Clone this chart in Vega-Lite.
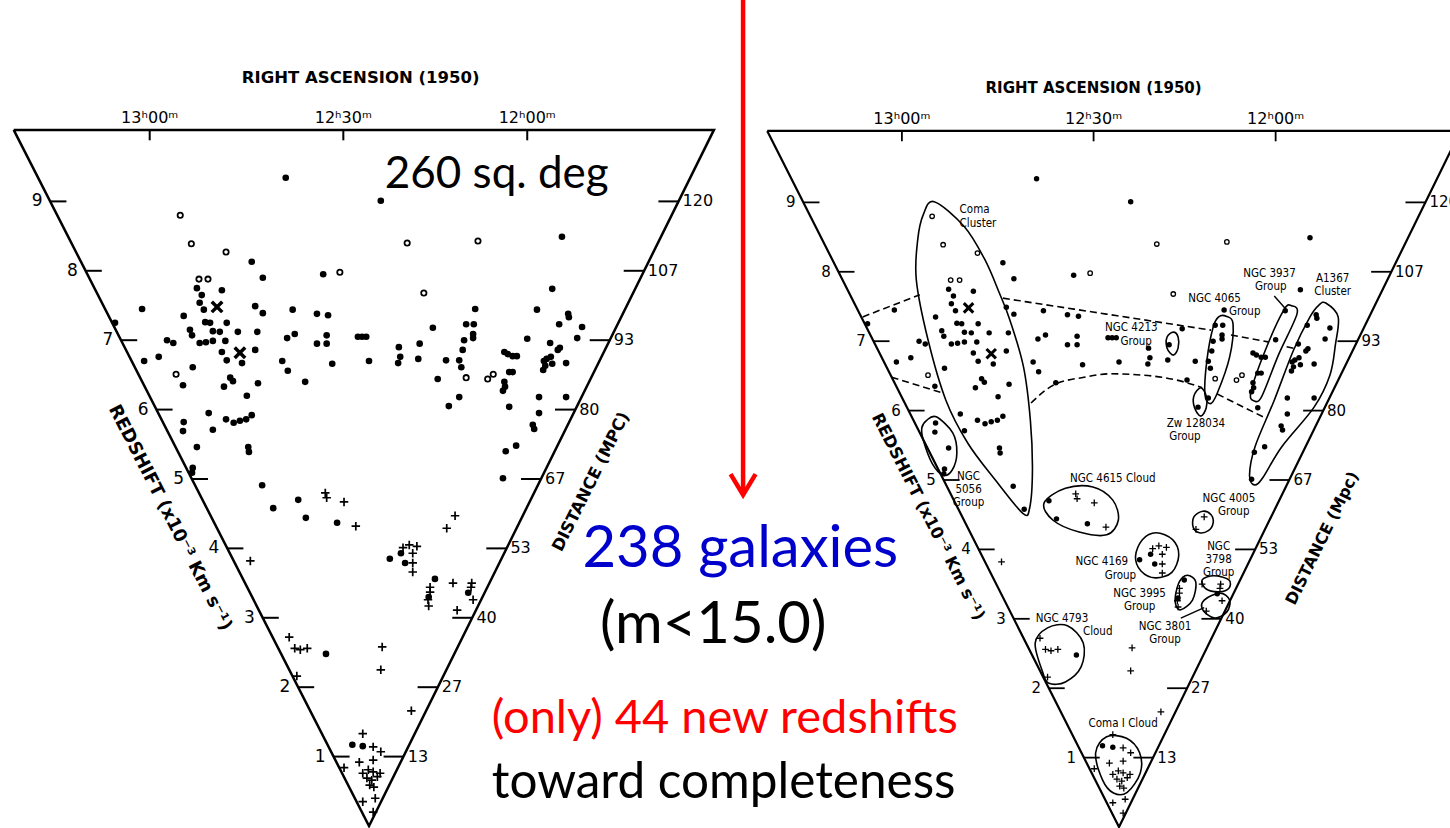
{
  "$schema": "https://vega.github.io/schema/vega-lite/v6.json",
  "width": 1450,
  "height": 828,
  "padding": 0,
  "autosize": {"type": "none"},
  "background": "white",
  "config": {"view": {"stroke": null}},
  "datasets": {
    "wedge": [
      {"u": -5.12, "v": 10.03, "o": 0},
      {"u": 0, "v": 0, "o": 1},
      {"u": 4.97, "v": 10.03, "o": 2},
      {"u": -5.12, "v": 10.03, "o": 3}
    ],
    "ra": [
      {"u": -3.16, "v": 10.03, "v2": 9.88, "t": "13ʰ00ᵐ"},
      {"u": -0.37, "v": 10.03, "v2": 9.88, "t": "12ʰ30ᵐ"},
      {"u": 2.28, "v": 10.03, "v2": 9.88, "t": "12ʰ00ᵐ"}
    ],
    "zt": [
      {"u": -0.51, "u2": -0.28, "v": 1, "t": "1"},
      {"u": -1.02, "u2": -0.79, "v": 2, "t": "2"},
      {"u": -1.53, "u2": -1.30, "v": 3, "t": "3"},
      {"u": -2.04, "u2": -1.81, "v": 4, "t": "4"},
      {"u": -2.55, "u2": -2.32, "v": 5, "t": "5"},
      {"u": -3.06, "u2": -2.83, "v": 6, "t": "6"},
      {"u": -3.57, "u2": -3.34, "v": 7, "t": "7"},
      {"u": -4.08, "u2": -3.85, "v": 8, "t": "8"},
      {"u": -4.59, "u2": -4.36, "v": 9, "t": "9"}
    ],
    "dt": [
      {"u": 0.50, "u2": 0.21, "v": 1, "t": "13"},
      {"u": 0.99, "u2": 0.70, "v": 2, "t": "27"},
      {"u": 1.49, "u2": 1.20, "v": 3, "t": "40"},
      {"u": 1.98, "u2": 1.69, "v": 4, "t": "53"},
      {"u": 2.48, "u2": 2.19, "v": 5, "t": "67"},
      {"u": 2.97, "u2": 2.68, "v": 6, "t": "80"},
      {"u": 3.47, "u2": 3.18, "v": 7, "t": "93"},
      {"u": 3.96, "u2": 3.67, "v": 8, "t": "107"},
      {"u": 4.46, "u2": 4.17, "v": 9, "t": "120"}
    ],
    "galaxies": [
      {"u": -1.20, "v": 9.34, "k": "dot"}, {"u": 0.17, "v": 9.01, "k": "dot"}, {"u": -1.69, "v": 8.13, "k": "dot"},
      {"u": -1.53, "v": 7.90, "k": "dot"}, {"u": -0.66, "v": 7.95, "k": "dot"}, {"u": 2.78, "v": 8.49, "k": "dot"},
      {"u": 2.64, "v": 7.74, "k": "dot"}, {"u": 1.53, "v": 7.45, "k": "dot"}, {"u": 2.42, "v": 7.44, "k": "dot"},
      {"u": 2.87, "v": 7.38, "k": "dot"}, {"u": 2.88, "v": 7.33, "k": "dot"}, {"u": -3.27, "v": 7.45, "k": "dot"},
      {"u": -2.48, "v": 7.75, "k": "dot"}, {"u": -2.41, "v": 7.65, "k": "dot"}, {"u": -2.12, "v": 7.72, "k": "dot"},
      {"u": -2.44, "v": 7.54, "k": "dot"}, {"u": -1.64, "v": 7.49, "k": "dot"}, {"u": -1.53, "v": 7.39, "k": "dot"},
      {"u": -1.10, "v": 7.44, "k": "dot"}, {"u": -0.75, "v": 7.38, "k": "dot"}, {"u": -0.59, "v": 7.36, "k": "dot"},
      {"u": -2.67, "v": 7.35, "k": "dot"}, {"u": -3.66, "v": 7.25, "k": "dot"}, {"u": -2.38, "v": 7.44, "k": "dot"},
      {"u": -2.36, "v": 7.26, "k": "dot"}, {"u": -2.29, "v": 7.25, "k": "dot"}, {"u": -2.05, "v": 7.25, "k": "dot"},
      {"u": -2.58, "v": 7.15, "k": "dot"}, {"u": -2.55, "v": 7.07, "k": "dot"}, {"u": -2.25, "v": 7.13, "k": "dot"},
      {"u": -2.15, "v": 7.12, "k": "dot"}, {"u": -1.89, "v": 7.12, "k": "dot"}, {"u": -1.61, "v": 7.12, "k": "dot"},
      {"u": -1.18, "v": 7.03, "k": "dot"}, {"u": -1.07, "v": 7.09, "k": "dot"}, {"u": -0.61, "v": 7.07, "k": "dot"},
      {"u": -2.91, "v": 7.00, "k": "dot"}, {"u": -2.82, "v": 6.96, "k": "dot"}, {"u": -2.44, "v": 6.96, "k": "dot"},
      {"u": -2.35, "v": 6.97, "k": "dot"}, {"u": -2.25, "v": 6.99, "k": "dot"}, {"u": -2.07, "v": 6.99, "k": "dot"},
      {"u": -0.75, "v": 6.95, "k": "dot"}, {"u": -0.61, "v": 6.95, "k": "dot"}, {"u": -0.16, "v": 7.05, "k": "dot"},
      {"u": -2.12, "v": 6.83, "k": "dot"}, {"u": -2.05, "v": 6.71, "k": "dot"}, {"u": -1.83, "v": 6.67, "k": "dot"},
      {"u": -1.64, "v": 6.86, "k": "dot"}, {"u": -3.24, "v": 6.70, "k": "dot"}, {"u": -3.03, "v": 6.76, "k": "dot"},
      {"u": -2.54, "v": 6.61, "k": "dot"}, {"u": -2.68, "v": 6.35, "k": "dot"}, {"u": -1.25, "v": 6.70, "k": "dot"},
      {"u": -1.17, "v": 6.56, "k": "dot"}, {"u": -0.53, "v": 6.66, "k": "dot"}, {"u": -0.92, "v": 6.40, "k": "dot"},
      {"u": -2.00, "v": 6.46, "k": "dot"}, {"u": -1.96, "v": 6.41, "k": "dot"}, {"u": -2.09, "v": 6.33, "k": "dot"},
      {"u": -1.60, "v": 6.38, "k": "dot"}, {"u": -1.76, "v": 6.20, "k": "dot"}, {"u": -2.31, "v": 5.95, "k": "dot"},
      {"u": -2.06, "v": 5.86, "k": "dot"}, {"u": -1.95, "v": 5.81, "k": "dot"}, {"u": -1.86, "v": 5.84, "k": "dot"},
      {"u": -1.77, "v": 5.86, "k": "dot"}, {"u": -1.69, "v": 5.92, "k": "dot"}, {"u": -2.67, "v": 5.82, "k": "dot"},
      {"u": -2.68, "v": 5.69, "k": "dot"}, {"u": -2.25, "v": 5.71, "k": "dot"}, {"u": -2.48, "v": 5.46, "k": "dot"},
      {"u": -1.74, "v": 5.46, "k": "dot"}, {"u": -1.73, "v": 5.39, "k": "dot"}, {"u": -2.54, "v": 5.16, "k": "dot"},
      {"u": -2.55, "v": 5.09, "k": "dot"}, {"u": -1.54, "v": 4.91, "k": "dot"}, {"u": -1.38, "v": 4.58, "k": "dot"},
      {"u": -1.02, "v": 4.70, "k": "dot"}, {"u": -0.91, "v": 4.44, "k": "dot"}, {"u": -0.46, "v": 4.37, "k": "dot"},
      {"u": -0.10, "v": 7.05, "k": "dot"}, {"u": -0.04, "v": 7.05, "k": "dot"}, {"u": 0.00, "v": 6.70, "k": "dot"},
      {"u": 0.43, "v": 6.90, "k": "dot"}, {"u": 0.45, "v": 6.76, "k": "dot"}, {"u": 0.42, "v": 6.67, "k": "dot"},
      {"u": 0.73, "v": 6.95, "k": "dot"}, {"u": 0.71, "v": 6.73, "k": "dot"}, {"u": 0.92, "v": 7.18, "k": "dot"},
      {"u": 1.11, "v": 6.71, "k": "dot"}, {"u": 0.99, "v": 6.44, "k": "dot"}, {"u": 1.30, "v": 6.71, "k": "dot"},
      {"u": 1.33, "v": 6.61, "k": "dot"}, {"u": 1.30, "v": 6.18, "k": "dot"}, {"u": 1.15, "v": 6.05, "k": "dot"},
      {"u": 1.40, "v": 7.23, "k": "dot"}, {"u": 1.51, "v": 7.23, "k": "dot"}, {"u": 1.50, "v": 7.09, "k": "dot"},
      {"u": 1.50, "v": 7.03, "k": "dot"}, {"u": 1.37, "v": 7.00, "k": "dot"}, {"u": 1.35, "v": 6.86, "k": "dot"},
      {"u": 1.95, "v": 6.83, "k": "dot"}, {"u": 2.00, "v": 6.80, "k": "dot"}, {"u": 2.07, "v": 6.77, "k": "dot"},
      {"u": 2.13, "v": 6.77, "k": "dot"}, {"u": 2.07, "v": 6.54, "k": "dot"}, {"u": 2.02, "v": 6.54, "k": "dot"},
      {"u": 1.95, "v": 6.40, "k": "dot"}, {"u": 1.96, "v": 6.33, "k": "dot"}, {"u": 1.93, "v": 6.27, "k": "dot"},
      {"u": 2.02, "v": 6.04, "k": "dot"}, {"u": 2.28, "v": 7.02, "k": "dot"}, {"u": 2.61, "v": 6.96, "k": "dot"},
      {"u": 2.74, "v": 7.23, "k": "dot"}, {"u": 3.07, "v": 7.19, "k": "dot"}, {"u": 3.00, "v": 7.03, "k": "dot"},
      {"u": 2.72, "v": 6.86, "k": "dot"}, {"u": 2.75, "v": 6.89, "k": "dot"}, {"u": 2.52, "v": 6.70, "k": "dot"},
      {"u": 2.56, "v": 6.73, "k": "dot"}, {"u": 2.62, "v": 6.76, "k": "dot"}, {"u": 2.64, "v": 6.66, "k": "dot"},
      {"u": 2.51, "v": 6.57, "k": "dot"}, {"u": 2.54, "v": 6.63, "k": "dot"}, {"u": 2.84, "v": 6.67, "k": "dot"},
      {"u": 2.45, "v": 6.18, "k": "dot"}, {"u": 2.84, "v": 6.18, "k": "dot"}, {"u": 2.45, "v": 5.95, "k": "dot"},
      {"u": 2.36, "v": 5.78, "k": "dot"}, {"u": 2.38, "v": 5.72, "k": "dot"}, {"u": 1.97, "v": 5.40, "k": "dot"},
      {"u": 2.12, "v": 5.48, "k": "dot"}, {"u": 1.93, "v": 5.01, "k": "dot"},
      {"u": 0.30, "v": 3.85, "k": "dot"}, {"u": 0.46, "v": 3.93, "k": "dot"}, {"u": 0.52, "v": 3.79, "k": "dot"},
      {"u": 0.95, "v": 3.56, "k": "dot"}, {"u": 0.86, "v": 3.30, "k": "dot"}, {"u": 1.43, "v": 3.36, "k": "dot"},
      {"u": -0.62, "v": 2.48, "k": "dot"}, {"u": -0.24, "v": 1.17, "k": "dot"}, {"u": -0.09, "v": 1.15, "k": "dot"},
      {"u": -2.72, "v": 8.80, "k": "open"}, {"u": -2.56, "v": 8.39, "k": "open"}, {"u": -2.06, "v": 8.27, "k": "open"},
      {"u": -0.42, "v": 7.98, "k": "open"}, {"u": 0.55, "v": 8.40, "k": "open"}, {"u": 1.57, "v": 8.43, "k": "open"},
      {"u": 0.79, "v": 7.68, "k": "open"}, {"u": -2.45, "v": 7.88, "k": "open"}, {"u": -2.32, "v": 7.88, "k": "open"},
      {"u": -2.78, "v": 6.51, "k": "open"}, {"u": 1.40, "v": 6.46, "k": "open"}, {"u": 1.71, "v": 6.44, "k": "open"},
      {"u": 1.79, "v": 6.51, "k": "open"},
      {"u": -2.19, "v": 7.48, "k": "x"}, {"u": -1.86, "v": 6.82, "k": "x"},
      {"u": -0.63, "v": 4.80, "k": "cross"}, {"u": -0.61, "v": 4.73, "k": "cross"}, {"u": -0.36, "v": 4.67, "k": "cross"},
      {"u": -0.19, "v": 4.32, "k": "cross"}, {"u": 1.24, "v": 4.47, "k": "cross"}, {"u": 1.12, "v": 4.29, "k": "cross"},
      {"u": -1.71, "v": 3.82, "k": "cross"}, {"u": 0.49, "v": 4.01, "k": "cross"}, {"u": 0.58, "v": 4.05, "k": "cross"},
      {"u": 0.69, "v": 4.03, "k": "cross"}, {"u": 0.63, "v": 3.93, "k": "cross"}, {"u": 0.63, "v": 3.79, "k": "cross"},
      {"u": 0.63, "v": 3.66, "k": "cross"}, {"u": 0.88, "v": 3.44, "k": "cross"}, {"u": 0.88, "v": 3.37, "k": "cross"},
      {"u": 0.85, "v": 3.26, "k": "cross"}, {"u": 0.86, "v": 3.17, "k": "cross"}, {"u": 1.21, "v": 3.50, "k": "cross"},
      {"u": 1.48, "v": 3.50, "k": "cross"}, {"u": 1.47, "v": 3.44, "k": "cross"}, {"u": 1.50, "v": 3.26, "k": "cross"},
      {"u": 1.27, "v": 3.11, "k": "cross"}, {"u": -1.15, "v": 2.72, "k": "cross"}, {"u": -1.07, "v": 2.56, "k": "cross"},
      {"u": -0.99, "v": 2.54, "k": "cross"}, {"u": -0.89, "v": 2.56, "k": "cross"}, {"u": 0.19, "v": 2.58, "k": "cross"},
      {"u": 0.17, "v": 2.25, "k": "cross"}, {"u": -1.04, "v": 2.16, "k": "cross"}, {"u": 0.61, "v": 1.66, "k": "cross"},
      {"u": -0.09, "v": 1.33, "k": "cross"}, {"u": 0.06, "v": 1.14, "k": "cross"}, {"u": 0.17, "v": 1.07, "k": "cross"},
      {"u": -0.14, "v": 0.92, "k": "cross"}, {"u": 0.06, "v": 0.95, "k": "cross"}, {"u": -0.36, "v": 0.84, "k": "cross"},
      {"u": -0.09, "v": 0.76, "k": "cross"}, {"u": -0.01, "v": 0.81, "k": "cross"}, {"u": 0.06, "v": 0.78, "k": "cross"},
      {"u": 0.16, "v": 0.76, "k": "cross"}, {"u": -0.03, "v": 0.69, "k": "cross"}, {"u": 0.04, "v": 0.66, "k": "cross"},
      {"u": 0.12, "v": 0.71, "k": "cross"}, {"u": 0.01, "v": 0.59, "k": "cross"}, {"u": 0.07, "v": 0.56, "k": "cross"},
      {"u": 0.09, "v": 0.40, "k": "cross"}, {"u": -0.09, "v": 0.35, "k": "cross"}, {"u": 0.06, "v": 0.20, "k": "cross"}
    ],
    "groups": [
      {"g": "Coma", "o": 0, "u": -2.69, "v": 9.01}, {"g": "Coma", "o": 1, "u": -2.25, "v": 8.65},
      {"g": "Coma", "o": 2, "u": -1.95, "v": 8.17}, {"g": "Coma", "o": 3, "u": -1.74, "v": 7.69},
      {"g": "Coma", "o": 4, "u": -1.59, "v": 7.31}, {"g": "Coma", "o": 5, "u": -1.39, "v": 6.63},
      {"g": "Coma", "o": 6, "u": -1.29, "v": 5.86}, {"g": "Coma", "o": 7, "u": -1.26, "v": 5.14},
      {"g": "Coma", "o": 8, "u": -1.30, "v": 4.60}, {"g": "Coma", "o": 9, "u": -1.40, "v": 4.52},
      {"g": "Coma", "o": 10, "u": -1.80, "v": 5.00}, {"g": "Coma", "o": 11, "u": -2.20, "v": 5.53},
      {"g": "Coma", "o": 12, "u": -2.52, "v": 6.15}, {"g": "Coma", "o": 13, "u": -2.78, "v": 7.02},
      {"g": "Coma", "o": 14, "u": -2.95, "v": 7.88}, {"g": "Coma", "o": 15, "u": -2.93, "v": 8.46},
      {"g": "Coma", "o": 16, "u": -2.85, "v": 8.82},
      {"g": "N5056", "o": 0, "u": -2.66, "v": 5.91}, {"g": "N5056", "o": 1, "u": -2.42, "v": 5.68},
      {"g": "N5056", "o": 2, "u": -2.36, "v": 5.39}, {"g": "N5056", "o": 3, "u": -2.43, "v": 5.14},
      {"g": "N5056", "o": 4, "u": -2.56, "v": 5.07}, {"g": "N5056", "o": 5, "u": -2.72, "v": 5.24},
      {"g": "N5056", "o": 6, "u": -2.85, "v": 5.58}, {"g": "N5056", "o": 7, "u": -2.87, "v": 5.75},
      {"g": "N5056", "o": 8, "u": -2.80, "v": 5.86},
      {"g": "N4213", "o": 0, "u": 0.79, "v": 7.13}, {"g": "N4213", "o": 1, "u": 0.86, "v": 7.06},
      {"g": "N4213", "o": 2, "u": 0.86, "v": 6.90}, {"g": "N4213", "o": 3, "u": 0.79, "v": 6.80},
      {"g": "N4213", "o": 4, "u": 0.70, "v": 6.90}, {"g": "N4213", "o": 5, "u": 0.70, "v": 7.06},
      {"g": "N4065", "o": 0, "u": 1.56, "v": 7.36}, {"g": "N4065", "o": 1, "u": 1.66, "v": 7.25},
      {"g": "N4065", "o": 2, "u": 1.61, "v": 6.77}, {"g": "N4065", "o": 3, "u": 1.43, "v": 6.25},
      {"g": "N4065", "o": 4, "u": 1.33, "v": 6.10}, {"g": "N4065", "o": 5, "u": 1.25, "v": 6.24},
      {"g": "N4065", "o": 6, "u": 1.28, "v": 6.73}, {"g": "N4065", "o": 7, "u": 1.37, "v": 7.20},
      {"g": "N4065", "o": 8, "u": 1.45, "v": 7.35},
      {"g": "Zw", "o": 0, "u": 1.19, "v": 6.33}, {"g": "Zw", "o": 1, "u": 1.27, "v": 6.21},
      {"g": "Zw", "o": 2, "u": 1.27, "v": 6.04}, {"g": "Zw", "o": 3, "u": 1.19, "v": 5.92},
      {"g": "Zw", "o": 4, "u": 1.10, "v": 6.04}, {"g": "Zw", "o": 5, "u": 1.09, "v": 6.21},
      {"g": "N3937", "o": 0, "u": 2.51, "v": 7.51}, {"g": "N3937", "o": 1, "u": 2.59, "v": 7.39},
      {"g": "N3937", "o": 2, "u": 2.32, "v": 6.80}, {"g": "N3937", "o": 3, "u": 2.08, "v": 6.21},
      {"g": "N3937", "o": 4, "u": 1.97, "v": 6.14}, {"g": "N3937", "o": 5, "u": 1.92, "v": 6.27},
      {"g": "N3937", "o": 6, "u": 2.13, "v": 6.87}, {"g": "N3937", "o": 7, "u": 2.40, "v": 7.45},
      {"g": "A1367", "o": 0, "u": 3.01, "v": 7.55}, {"g": "A1367", "o": 1, "u": 3.19, "v": 7.35},
      {"g": "A1367", "o": 2, "u": 3.15, "v": 6.95}, {"g": "A1367", "o": 3, "u": 3.07, "v": 6.51},
      {"g": "A1367", "o": 4, "u": 2.84, "v": 6.05}, {"g": "A1367", "o": 5, "u": 2.37, "v": 5.48},
      {"g": "A1367", "o": 6, "u": 2.09, "v": 5.03}, {"g": "A1367", "o": 7, "u": 1.97, "v": 4.93},
      {"g": "A1367", "o": 8, "u": 1.90, "v": 5.07}, {"g": "A1367", "o": 9, "u": 1.98, "v": 5.48},
      {"g": "A1367", "o": 10, "u": 2.26, "v": 6.15}, {"g": "A1367", "o": 11, "u": 2.54, "v": 6.87},
      {"g": "A1367", "o": 12, "u": 2.78, "v": 7.35}, {"g": "A1367", "o": 13, "u": 2.91, "v": 7.52},
      {"g": "N4615", "o": 0, "u": -1.09, "v": 4.67}, {"g": "N4615", "o": 1, "u": -0.78, "v": 4.88},
      {"g": "N4615", "o": 2, "u": -0.38, "v": 4.90}, {"g": "N4615", "o": 3, "u": -0.09, "v": 4.71},
      {"g": "N4615", "o": 4, "u": -0.01, "v": 4.42}, {"g": "N4615", "o": 5, "u": -0.18, "v": 4.21},
      {"g": "N4615", "o": 6, "u": -0.58, "v": 4.25}, {"g": "N4615", "o": 7, "u": -0.96, "v": 4.42},
      {"g": "N4005", "o": 0, "u": 1.22, "v": 4.55}, {"g": "N4005", "o": 1, "u": 1.34, "v": 4.50},
      {"g": "N4005", "o": 2, "u": 1.37, "v": 4.38}, {"g": "N4005", "o": 3, "u": 1.30, "v": 4.27},
      {"g": "N4005", "o": 4, "u": 1.17, "v": 4.24}, {"g": "N4005", "o": 5, "u": 1.08, "v": 4.32},
      {"g": "N4005", "o": 6, "u": 1.09, "v": 4.47},
      {"g": "N4169", "o": 0, "u": 0.54, "v": 4.24}, {"g": "N4169", "o": 1, "u": 0.78, "v": 4.14},
      {"g": "N4169", "o": 2, "u": 0.87, "v": 3.92}, {"g": "N4169", "o": 3, "u": 0.77, "v": 3.67},
      {"g": "N4169", "o": 4, "u": 0.53, "v": 3.59}, {"g": "N4169", "o": 5, "u": 0.32, "v": 3.69},
      {"g": "N4169", "o": 6, "u": 0.24, "v": 3.90}, {"g": "N4169", "o": 7, "u": 0.34, "v": 4.14},
      {"g": "N3995", "o": 0, "u": 1.03, "v": 3.62}, {"g": "N3995", "o": 1, "u": 1.12, "v": 3.52},
      {"g": "N3995", "o": 2, "u": 1.07, "v": 3.27}, {"g": "N3995", "o": 3, "u": 0.90, "v": 3.13},
      {"g": "N3995", "o": 4, "u": 0.82, "v": 3.23}, {"g": "N3995", "o": 5, "u": 0.85, "v": 3.46},
      {"g": "N3995", "o": 6, "u": 0.93, "v": 3.60},
      {"g": "N3798", "o": 0, "u": 1.21, "v": 3.56}, {"g": "N3798", "o": 1, "u": 1.38, "v": 3.62},
      {"g": "N3798", "o": 2, "u": 1.60, "v": 3.56}, {"g": "N3798", "o": 3, "u": 1.60, "v": 3.44},
      {"g": "N3798", "o": 4, "u": 1.46, "v": 3.39}, {"g": "N3798", "o": 5, "u": 1.27, "v": 3.43},
      {"g": "N3801", "o": 0, "u": 1.47, "v": 3.37}, {"g": "N3801", "o": 1, "u": 1.61, "v": 3.27},
      {"g": "N3801", "o": 2, "u": 1.57, "v": 3.10}, {"g": "N3801", "o": 3, "u": 1.39, "v": 3.01},
      {"g": "N3801", "o": 4, "u": 1.22, "v": 3.13}, {"g": "N3801", "o": 5, "u": 1.24, "v": 3.27},
      {"g": "N4793", "o": 0, "u": -0.75, "v": 2.90}, {"g": "N4793", "o": 1, "u": -0.52, "v": 2.65},
      {"g": "N4793", "o": 2, "u": -0.55, "v": 2.31}, {"g": "N4793", "o": 3, "u": -0.78, "v": 2.09},
      {"g": "N4793", "o": 4, "u": -1.02, "v": 2.07}, {"g": "N4793", "o": 5, "u": -1.11, "v": 2.23},
      {"g": "N4793", "o": 6, "u": -1.22, "v": 2.65}, {"g": "N4793", "o": 7, "u": -1.04, "v": 2.87},
      {"g": "ComaI", "o": 0, "u": -0.18, "v": 1.30}, {"g": "ComaI", "o": 1, "u": 0.11, "v": 1.28},
      {"g": "ComaI", "o": 2, "u": 0.30, "v": 1.07}, {"g": "ComaI", "o": 3, "u": 0.31, "v": 0.78},
      {"g": "ComaI", "o": 4, "u": 0.12, "v": 0.50}, {"g": "ComaI", "o": 5, "u": -0.08, "v": 0.49},
      {"g": "ComaI", "o": 6, "u": -0.24, "v": 0.68}, {"g": "ComaI", "o": 7, "u": -0.34, "v": 1.07}
    ],
    "band": [
      {"s": "a", "o": 0, "u": -3.73, "v": 7.35}, {"s": "a", "o": 1, "u": -2.90, "v": 7.67},
      {"s": "b", "o": 0, "u": -1.69, "v": 7.62}, {"s": "b", "o": 1, "u": -0.38, "v": 7.42}, {"s": "b", "o": 2, "u": 1.34, "v": 7.16},
      {"s": "c", "o": 0, "u": 1.63, "v": 7.09}, {"s": "c", "o": 1, "u": 2.17, "v": 6.99},
      {"s": "d", "o": 0, "u": 2.44, "v": 6.92}, {"s": "d", "o": 1, "u": 2.57, "v": 6.89},
      {"s": "e", "o": 0, "u": -3.31, "v": 6.48}, {"s": "e", "o": 1, "u": -2.55, "v": 6.25},
      {"s": "f", "o": 0, "u": -1.28, "v": 6.11}, {"s": "f", "o": 1, "u": -0.95, "v": 6.37},
      {"s": "f", "o": 2, "u": -0.51, "v": 6.48}, {"s": "f", "o": 3, "u": -0.12, "v": 6.53},
      {"s": "f", "o": 4, "u": 0.36, "v": 6.51}, {"s": "f", "o": 5, "u": 0.84, "v": 6.44},
      {"s": "f", "o": 6, "u": 1.21, "v": 6.33},
      {"s": "g", "o": 0, "u": 1.43, "v": 6.24}, {"s": "g", "o": 1, "u": 1.75, "v": 6.08}, {"s": "g", "o": 2, "u": 2.12, "v": 5.90}
    ],
    "leaders": [
      {"s": "N3937", "o": 0, "u": 2.26, "v": 7.65}, {"s": "N3937", "o": 1, "u": 2.44, "v": 7.45},
      {"s": "N3801", "o": 0, "u": 0.90, "v": 3.01}, {"s": "N3801", "o": 1, "u": 1.24, "v": 3.16}
    ],
    "groupLabels": [
      {"u": -2.32, "v": 8.85, "t": "Coma\nCluster", "a": "left"},
      {"u": -2.19, "v": 5.00, "t": "NGC\n5056\nGroup", "a": "center"},
      {"u": 0.18, "v": 7.14, "t": "NGC 4213", "a": "center"},
      {"u": 0.25, "v": 6.94, "t": "Group", "a": "center"},
      {"u": 1.39, "v": 7.57, "t": "NGC 4065", "a": "center"},
      {"u": 1.83, "v": 7.38, "t": "Group", "a": "center"},
      {"u": 1.12, "v": 5.77, "t": "Zw 128034", "a": "center"},
      {"u": 0.96, "v": 5.58, "t": "Group", "a": "center"},
      {"u": 2.19, "v": 7.93, "t": "NGC 3937", "a": "center"},
      {"u": 2.21, "v": 7.74, "t": "Group", "a": "center"},
      {"u": 3.11, "v": 7.85, "t": "A1367\nCluster", "a": "center"},
      {"u": -0.09, "v": 4.97, "t": "NGC 4615 Cloud", "a": "center"},
      {"u": 1.60, "v": 4.68, "t": "NGC 4005", "a": "center"},
      {"u": 1.67, "v": 4.49, "t": "Group", "a": "center"},
      {"u": -0.25, "v": 3.77, "t": "NGC 4169", "a": "center"},
      {"u": 0.02, "v": 3.58, "t": "Group", "a": "center"},
      {"u": 1.45, "v": 3.99, "t": "NGC\n3798\nGroup", "a": "center"},
      {"u": 0.30, "v": 3.31, "t": "NGC 3995\nGroup", "a": "center"},
      {"u": 0.67, "v": 2.84, "t": "NGC 3801\nGroup", "a": "center"},
      {"u": -0.83, "v": 2.96, "t": "NGC 4793", "a": "center"},
      {"u": -0.31, "v": 2.77, "t": "Cloud", "a": "center"},
      {"u": 0.06, "v": 1.44, "t": "Coma I Cloud", "a": "center"}
    ]
  },
  "layer": [
    {
      "encoding": {
        "x": {"field": "u", "type": "quantitative", "scale": {"domain": [-5.317, 15.576], "nice": false, "zero": false}, "axis": null},
        "y": {"field": "v", "type": "quantitative", "scale": {"domain": [-0.029, 11.902], "nice": false, "zero": false}, "axis": null}
      },
      "layer": [
        {"data": {"name": "wedge"}, "mark": {"type": "line", "stroke": "black", "strokeWidth": 2.5, "strokeJoin": "miter"}, "encoding": {"order": {"field": "o", "type": "quantitative"}}},
        {"data": {"name": "ra"}, "mark": {"type": "rule", "stroke": "black", "strokeWidth": 2}, "encoding": {"y2": {"field": "v2"}}},
        {"data": {"name": "ra"}, "mark": {"type": "text", "font": "DejaVu Sans", "fontSize": 16, "dy": -7, "baseline": "alphabetic", "align": "center", "color": "black"}, "encoding": {"text": {"field": "t"}}},
        {"data": {"name": "zt"}, "mark": {"type": "rule", "stroke": "black", "strokeWidth": 2}, "encoding": {"x2": {"field": "u2"}}},
        {"data": {"name": "zt"}, "mark": {"type": "text", "font": "DejaVu Sans", "fontSize": 17, "align": "right", "baseline": "middle", "dx": -8, "color": "black"}, "encoding": {"text": {"field": "t"}}},
        {"data": {"name": "dt"}, "mark": {"type": "rule", "stroke": "black", "strokeWidth": 2}, "encoding": {"x2": {"field": "u2"}}},
        {"data": {"name": "dt"}, "mark": {"type": "text", "font": "DejaVu Sans", "fontSize": 16, "align": "left", "baseline": "middle", "dx": 4, "color": "black"}, "encoding": {"text": {"field": "t"}}},
        {"data": {"values": [{"u": -0.12, "v": 10.71, "t": "RIGHT ASCENSION (1950)"}]}, "mark": {"type": "text", "font": "DejaVu Sans", "fontWeight": "bold", "fontSize": 16.5, "align": "center", "baseline": "alphabetic", "color": "black"}, "encoding": {"text": {"field": "t"}}},
        {"data": {"values": [{"u": -2.87, "v": 4.44, "t": "REDSHIFT (x10⁻³ Km s⁻¹)"}]}, "mark": {"type": "text", "font": "DejaVu Sans", "fontWeight": "bold", "fontSize": 18, "angle": 63, "align": "center", "baseline": "middle", "color": "black"}, "encoding": {"text": {"field": "t"}}},
        {"data": {"values": [{"u": 3.20, "v": 4.96, "t": "DISTANCE (MPC)"}]}, "mark": {"type": "text", "font": "DejaVu Sans", "fontWeight": "bold", "fontSize": 16.5, "angle": 296.4, "align": "center", "baseline": "middle", "color": "black"}, "encoding": {"text": {"field": "t"}}},
        {"data": {"name": "galaxies"}, "transform": [{"filter": "datum.k === 'dot'"}], "mark": {"type": "point", "shape": "circle", "filled": true, "color": "black", "opacity": 1, "size": 44}},
        {"data": {"name": "galaxies"}, "transform": [{"filter": "datum.k === 'open'"}], "mark": {"type": "point", "shape": "circle", "filled": false, "stroke": "black", "strokeWidth": 1.8, "opacity": 1, "size": 28}},
        {"data": {"name": "galaxies"}, "transform": [{"filter": "datum.k === 'cross'"}], "mark": {"type": "point", "shape": "M-1,0H1M0,-1V1", "filled": false, "stroke": "black", "strokeWidth": 1.7, "opacity": 1, "size": 72}},
        {"data": {"name": "galaxies"}, "transform": [{"filter": "datum.k === 'x'"}], "mark": {"type": "point", "shape": "M-1,-1L1,1M-1,1L1,-1", "filled": false, "stroke": "black", "strokeWidth": 3.5, "opacity": 1, "size": 110}},
        {"data": {"values": [{"u": 5.39, "v": 12.1, "v2": 4.82}]}, "mark": {"type": "rule", "stroke": "#ff0000", "strokeWidth": 4.5}, "encoding": {"y2": {"field": "v2"}}},
        {"data": {"values": [{"u": 5.21, "v": 5.07, "o": 0}, {"u": 5.39, "v": 4.77, "o": 1}, {"u": 5.57, "v": 5.07, "o": 2}]}, "mark": {"type": "line", "stroke": "#ff0000", "strokeWidth": 4.5, "strokeJoin": "miter"}, "encoding": {"order": {"field": "o", "type": "quantitative"}}},
        {"data": {"values": [{"u": 1.84, "v": 9.19, "t": "260 sq. deg"}]}, "mark": {"type": "text", "font": "Lato", "fontSize": 44, "align": "center", "baseline": "alphabetic", "color": "black"}, "encoding": {"text": {"field": "t"}}},
        {"data": {"values": [{"u": 5.35, "v": 3.73, "t": "238 galaxies"}]}, "mark": {"type": "text", "font": "Lato", "fontSize": 58, "align": "center", "baseline": "alphabetic", "color": "#0000cc"}, "encoding": {"text": {"field": "t"}}},
        {"data": {"values": [{"u": 4.96, "v": 2.64, "t": "(m<15.0)"}]}, "mark": {"type": "text", "font": "Lato", "fontSize": 58, "align": "center", "baseline": "alphabetic", "color": "black"}, "encoding": {"text": {"field": "t"}}},
        {"data": {"values": [{"u": 1.77, "v": 1.34, "t": "(only) 44 new redshifts"}]}, "mark": {"type": "text", "font": "Lato", "fontSize": 47, "align": "left", "baseline": "alphabetic", "color": "#ff0000"}, "encoding": {"text": {"field": "t"}}},
        {"data": {"values": [{"u": 1.77, "v": 0.40, "t": "toward completeness"}]}, "mark": {"type": "text", "font": "Lato", "fontSize": 49.5, "align": "left", "baseline": "alphabetic", "color": "black"}, "encoding": {"text": {"field": "t"}}}
      ]
    },
    {
      "encoding": {
        "x": {"field": "u", "type": "quantitative", "scale": {"domain": [-16.288, 4.818], "nice": false, "zero": false}, "axis": null},
        "y": {"field": "v", "type": "quantitative", "scale": {"domain": [-0.014, 11.916], "nice": false, "zero": false}, "axis": null}
      },
      "layer": [
        {"data": {"name": "wedge"}, "mark": {"type": "line", "stroke": "black", "strokeWidth": 2.2, "strokeJoin": "miter"}, "encoding": {"order": {"field": "o", "type": "quantitative"}}},
        {"data": {"name": "ra"}, "mark": {"type": "rule", "stroke": "black", "strokeWidth": 1.8}, "encoding": {"y2": {"field": "v2"}}},
        {"data": {"name": "ra"}, "mark": {"type": "text", "font": "DejaVu Sans", "fontSize": 16, "dy": -7, "baseline": "alphabetic", "align": "center", "color": "black"}, "encoding": {"text": {"field": "t"}}},
        {"data": {"name": "zt"}, "mark": {"type": "rule", "stroke": "black", "strokeWidth": 1.8}, "encoding": {"x2": {"field": "u2"}}},
        {"data": {"name": "zt"}, "mark": {"type": "text", "font": "DejaVu Sans", "fontSize": 15, "align": "right", "baseline": "middle", "dx": -8, "color": "black"}, "encoding": {"text": {"field": "t"}}},
        {"data": {"name": "dt"}, "mark": {"type": "rule", "stroke": "black", "strokeWidth": 1.8}, "encoding": {"x2": {"field": "u2"}}},
        {"data": {"name": "dt"}, "mark": {"type": "text", "font": "DejaVu Sans", "fontSize": 15, "align": "left", "baseline": "middle", "dx": 4, "color": "black"}, "encoding": {"text": {"field": "t"}}},
        {"data": {"values": [{"u": -0.37, "v": 10.58, "t": "RIGHT ASCENSION (1950)"}]}, "mark": {"type": "text", "font": "DejaVu Sans", "fontWeight": "bold", "fontSize": 15, "align": "center", "baseline": "alphabetic", "color": "black"}, "encoding": {"text": {"field": "t"}}},
        {"data": {"values": [{"u": -2.78, "v": 4.47, "t": "REDSHIFT (x10⁻³ Km s⁻¹)"}]}, "mark": {"type": "text", "font": "DejaVu Sans", "fontWeight": "bold", "fontSize": 16.5, "angle": 63, "align": "center", "baseline": "middle", "color": "black"}, "encoding": {"text": {"field": "t"}}},
        {"data": {"values": [{"u": 2.96, "v": 4.16, "t": "DISTANCE (Mpc)"}]}, "mark": {"type": "text", "font": "DejaVu Sans", "fontWeight": "bold", "fontSize": 16, "angle": 296, "align": "center", "baseline": "middle", "color": "black"}, "encoding": {"text": {"field": "t"}}},
        {"data": {"name": "groups"}, "mark": {"type": "line", "interpolate": "cardinal-closed", "stroke": "black", "strokeWidth": 1.6}, "encoding": {"detail": {"field": "g"}, "order": {"field": "o", "type": "quantitative"}}},
        {"data": {"name": "band"}, "mark": {"type": "line", "interpolate": "monotone", "stroke": "black", "strokeWidth": 1.6, "strokeDash": [7, 4]}, "encoding": {"detail": {"field": "s"}, "order": {"field": "o", "type": "quantitative"}}},
        {"data": {"name": "leaders"}, "mark": {"type": "line", "stroke": "black", "strokeWidth": 1.4}, "encoding": {"detail": {"field": "s"}, "order": {"field": "o", "type": "quantitative"}}},
        {"data": {"name": "groupLabels"}, "transform": [{"filter": "datum.a === 'center'"}], "mark": {"type": "text", "font": "DejaVu Sans Condensed, DejaVu Sans", "fontSize": 11.5, "align": "center", "baseline": "alphabetic", "lineBreak": "\n", "lineHeight": 13, "color": "black"}, "encoding": {"text": {"field": "t"}}},
        {"data": {"name": "groupLabels"}, "transform": [{"filter": "datum.a === 'left'"}], "mark": {"type": "text", "font": "DejaVu Sans Condensed, DejaVu Sans", "fontSize": 11.5, "align": "left", "baseline": "alphabetic", "lineBreak": "\n", "lineHeight": 14, "color": "black"}, "encoding": {"text": {"field": "t"}}},
        {"data": {"name": "galaxies"}, "transform": [{"filter": "datum.k === 'dot'"}], "mark": {"type": "point", "shape": "circle", "filled": true, "color": "black", "opacity": 1, "size": 30}},
        {"data": {"name": "galaxies"}, "transform": [{"filter": "datum.k === 'open'"}], "mark": {"type": "point", "shape": "circle", "filled": false, "stroke": "black", "strokeWidth": 1.3, "opacity": 1, "size": 20}},
        {"data": {"name": "galaxies"}, "transform": [{"filter": "datum.k === 'cross'"}], "mark": {"type": "point", "shape": "M-1,0H1M0,-1V1", "filled": false, "stroke": "black", "strokeWidth": 1.3, "opacity": 1, "size": 45}},
        {"data": {"name": "galaxies"}, "transform": [{"filter": "datum.k === 'x'"}], "mark": {"type": "point", "shape": "M-1,-1L1,1M-1,1L1,-1", "filled": false, "stroke": "black", "strokeWidth": 3, "opacity": 1, "size": 90}}
      ]
    }
  ],
  "resolve": {"scale": {"x": "independent", "y": "independent"}}
}
